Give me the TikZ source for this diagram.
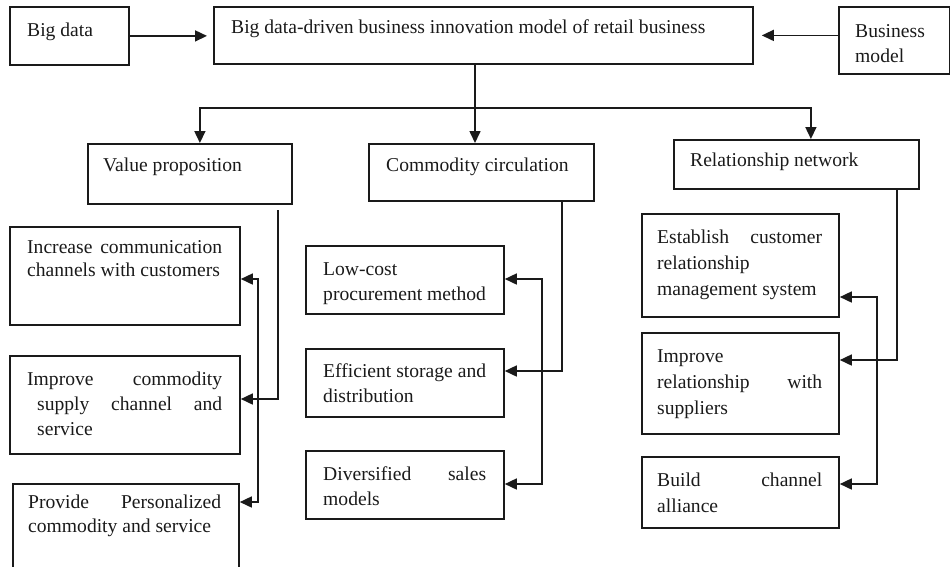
\documentclass[tikz,border=0pt]{standalone}
\usepackage{fontspec}
\setmainfont{Liberation Serif}
\usetikzlibrary{arrows.meta}
% one justified (or ragged) line of a box text
\newcommand{\jline}[1]{\hbox to\linewidth{#1}}
% a block of lines, first baseline on the node's base
\newcommand{\blk}[2]{\parbox[t]{#1}{#2}}
\definecolor{ink}{HTML}{1A1A1A}
\begin{document}
\begin{tikzpicture}[x=1pt,y=-1pt,
  box/.style={draw=ink, line width=1.8pt, inner sep=0pt, anchor=north west},
  txt/.style={anchor=base west, inner sep=0pt, text=ink, font=\fontsize{19.6}{25}\selectfont},
  link/.style={draw=ink, line width=1.6pt},
  tip/.tip={Triangle[length=12pt,width=11pt]},
  arr/.style={link, -tip},
  dbl/.style={link, tip-tip}]
\useasboundingbox (0,0) rectangle (950,566);
\clip (0,0) rectangle (950,566);

% ---- top row
\node[box, minimum width=119pt, minimum height=58pt] (bd) at (9,6) {};
\node[box, minimum width=539pt, minimum height=57pt] (main) at (213,6) {};
\node[box, minimum width=111pt, minimum height=67pt] (bm) at (838,6) {};
\node[txt] (tbd) at (27,36) {Big data};
\node[txt] (tmain) at (231,33) {Big data-driven business innovation model of retail business};
\node[txt] (tbm) at (855,37) {\blk{90pt}{\jline{Business\hfill}\jline{model\hfill}}};

% ---- second row
\node[box, minimum width=204pt, minimum height=60pt] (vp) at (87,143) {};
\node[box, minimum width=225pt, minimum height=57pt] (cc) at (368,143) {};
\node[box, minimum width=245pt, minimum height=49pt] (rn) at (673,139) {};
\node[txt] (tvp) at (103,171) {Value proposition};
\node[txt] (tcc) at (386,171) {Commodity circulation};
\node[txt] (trn) at (690,166) {Relationship network};

% ---- value proposition column
\node[box, minimum width=230pt, minimum height=98pt] (inc) at (9,226) {};
\node[box, minimum width=230pt, minimum height=98pt] (imp) at (9,355) {};
\node[box, minimum width=226pt, minimum height=110pt] (prov) at (12,483) {};
\node[txt] (tinc) at (27,253) {\blk{195pt}{\baselineskip=23pt
  \jline{Increase\hfill communication}\jline{channels with customers\hfill}}};
\node[txt] (timp) at (27,385) {\blk{195pt}{
  \jline{Improve\hfill commodity}\jline{\hspace{10pt}supply\hfill channel\hfill and}\jline{\hspace{10pt}service\hfill}}};
\node[txt] (tprov) at (28,508) {\blk{193pt}{\baselineskip=24pt
  \jline{Provide\hfill Personalized}\jline{commodity and service\hfill}}};

% ---- commodity circulation column
\node[box, minimum width=198pt, minimum height=68pt] (low) at (305,245) {};
\node[box, minimum width=198pt, minimum height=68pt] (eff) at (305,348) {};
\node[box, minimum width=198pt, minimum height=68pt] (div) at (305,450) {};
\node[txt] (tlow) at (323,275) {\blk{163pt}{\jline{Low-cost\hfill}\jline{procurement method\hfill}}};
\node[txt] (teff) at (323,377) {\blk{163pt}{\jline{Efficient storage and\hfill}\jline{distribution\hfill}}};
\node[txt] (tdiv) at (323,480) {\blk{163pt}{\jline{Diversified\hfill sales}\jline{models\hfill}}};

% ---- relationship network column
\node[box, minimum width=197pt, minimum height=103pt] (est) at (641,213) {};
\node[box, minimum width=197pt, minimum height=101pt] (irs) at (641,332) {};
\node[box, minimum width=197pt, minimum height=71pt] (bca) at (641,456) {};
\node[txt] (test) at (657,243) {\blk{165pt}{\baselineskip=26pt
  \jline{Establish\hfill customer}\jline{relationship\hfill}\jline{management system\hfill}}};
\node[txt] (tirs) at (657,362) {\blk{165pt}{\baselineskip=26pt
  \jline{Improve\hfill}\jline{relationship\hfill with}\jline{suppliers\hfill}}};
\node[txt] (tbca) at (657,486) {\blk{165pt}{\baselineskip=26pt
  \jline{Build\hfill channel}\jline{alliance\hfill}}};

% ---- inputs to the model
\draw[arr, shorten >=6pt] (bd.east) -- (bd.east -| main.west);
\draw[arr, shorten >=8pt] (main.east -| bm.west) -- (main.east);

% ---- model splits into three parts
\coordinate (split) at (475,108);
\draw[arr] (main.south -| split) -- (cc.north -| split);
\draw[arr] (split) -| ([xshift=10pt]vp.north);
\draw[arr] (split) -| ([xshift=14.5pt]rn.north);

% ---- value proposition branches
\coordinate (vpO) at (278,210);
\coordinate (vpK) at (278,399);
\draw[arr] (vpO) -- (vpK) -- (vpK -| imp.east);
\coordinate (vpT) at (258,279);
\coordinate (vpB) at (258,502);
\draw[dbl] (vpT -| inc.east) -- (vpT) -- (vpB) -- (vpB -| prov.east);

% ---- commodity circulation branches
\coordinate (ccK) at (562,371);
\draw[arr] (cc.south -| ccK) -- (ccK) -- (ccK -| eff.east);
\coordinate (ccT) at (542,279);
\coordinate (ccB) at (542,484);
\draw[dbl] (ccT -| low.east) -- (ccT) -- (ccB) -- (ccB -| div.east);

% ---- relationship network branches
\coordinate (rnK) at (897,360);
\draw[arr] (rn.south -| rnK) -- (rnK) -- (rnK -| irs.east);
\coordinate (rnT) at (877,297);
\coordinate (rnB) at (877,484);
\draw[dbl] (rnT -| est.east) -- (rnT) -- (rnB) -- (rnB -| bca.east);
\end{tikzpicture}
\end{document}
